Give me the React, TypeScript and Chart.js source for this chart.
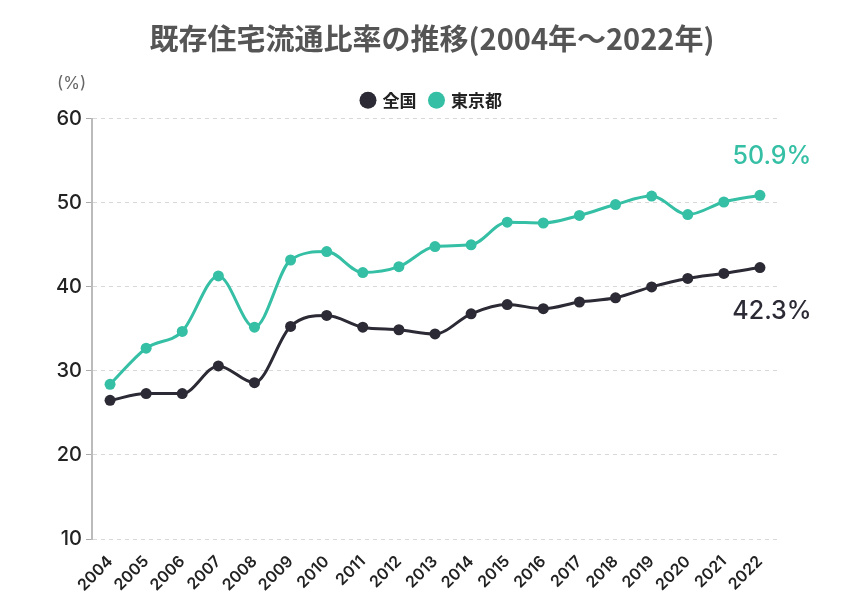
import React, { useEffect, useRef } from "react";
import { Chart, registerables } from "chart.js";

Chart.register(...registerables);

const years = ["2004","2005","2006","2007","2008","2009","2010","2011","2012","2013","2014","2015","2016","2017","2018","2019","2020","2021","2022"];
const national = [26.5,27.3,27.3,30.6,28.6,35.3,36.6,35.2,34.9,34.4,36.8,37.9,37.4,38.2,38.7,40.0,41.0,41.6,42.3];
const tokyo = [28.4,32.7,34.7,41.3,35.2,43.2,44.2,41.7,42.4,44.8,45.0,47.7,47.6,48.5,49.8,50.8,48.6,50.1,50.9];
const yTicks = [10, 20, 30, 40, 50, 60];
const seriesNames = ["全国", "東京都"];
const endLabels = ["42.3%", "50.9%"];

const DARK = "#2b2a35";
const TEAL = "#35bfa5";

const extrasPlugin = {
  id: "extras",
  afterDatasetsDraw(chart: any) {
    const ctx = chart.ctx;
    const area = chart.chartArea;
    ctx.save();
    ctx.font = "400 17px Inter, 'Noto Sans', sans-serif";
    ctx.fillStyle = "#666";
    ctx.textAlign = "left";
    ctx.textBaseline = "middle";
    ctx.fillText("(%)", area.left - 35, area.top - 35);
    chart.data.datasets.forEach((ds: any, i: number) => {
      const meta = chart.getDatasetMeta(i);
      const pt = meta.data[meta.data.length - 1];
      if (!pt) return;
      ctx.font = "500 25px Inter, 'Noto Sans', sans-serif";
      ctx.fillStyle = ds.borderColor;
      ctx.textAlign = "center";
      ctx.textBaseline = "middle";
      const dy = i === 1 ? -39 : 44;
      ctx.fillText(endLabels[i], pt.x + 12, pt.y + dy);
    });
    ctx.restore();
  },
};

export default function App() {
  const ref = useRef<HTMLCanvasElement>(null);
  useEffect(() => {
    if (!ref.current) return;
    const mk = (i: number, data: number[], color: string) => ({
      label: seriesNames[i],
      data,
      borderColor: color,
      backgroundColor: color,
      borderWidth: 3,
      pointRadius: 5.5,
      pointHoverRadius: 5.5,
      pointBorderWidth: 0,
      cubicInterpolationMode: "monotone" as const,
      yAxisID: "y",
    });
    const chart = new Chart(ref.current, {
      type: "line",
      data: {
        labels: years,
        datasets: [mk(0, national, DARK), mk(1, tokyo, TEAL)],
      },
      options: {
        animation: false,
        responsive: true,
        maintainAspectRatio: false,
        layout: { padding: { left: 32, right: 14, top: 0, bottom: 0 } },
        plugins: {
          title: {
            display: true,
            text: "既存住宅流通比率の推移(2004年～2022年)",
            color: "#555",
            font: { family: "'Noto Sans CJK JP', sans-serif", size: 29, weight: "bold" },
            padding: { top: 22, bottom: 21 },
          },
          legend: {
            display: true,
            labels: {
              usePointStyle: true,
              pointStyle: "circle",
              boxWidth: 12,
              boxHeight: 12,
              color: "#222",
              font: { family: "'Noto Sans CJK JP', sans-serif", size: 17, weight: "bold" },
              padding: 14,
            },
          },
          tooltip: { enabled: false },
        },
        scales: {
          x: {
            offset: true,
            grid: { display: false },
            border: { display: false },
            ticks: {
              minRotation: 45,
              maxRotation: 45,
              color: "#222",
              font: { family: "Inter, 'Noto Sans', sans-serif", size: 16, weight: "600" },
              padding: 5,
            },
            afterFit: (s: any) => { s.height = 76; },
          },
          y: {
            min: 10,
            max: 60,
            afterBuildTicks: (s: any) => { s.ticks = yTicks.map((v) => ({ value: v })); },
            afterFit: (s: any) => { s.width = 60; },
            grid: {
              color: "#d8d8d8",
              tickColor: "#aaa",
              tickLength: 6,
              tickBorderDash: [],
              lineWidth: 1,
            },
            border: { display: true, color: "#bbb", width: 2, dash: [4, 4] },
            ticks: {
              color: "#222",
              font: { family: "Inter, 'Noto Sans', sans-serif", size: 20, weight: "500" },
              padding: 4,
            },
          },
          yRight: {
            position: "right",
            display: true,
            grid: { display: false },
            border: { display: false },
            ticks: { display: false },
            afterFit: (s: any) => { s.width = 54; },
          },
        },
      },
      plugins: [extrasPlugin],
    });
    return () => chart.destroy();
  }, []);
  return (
    <div style={{ position: "absolute", left: 0, top: 0, width: 846, height: 615, background: "#fff" }}>
      <canvas ref={ref} />
    </div>
  );
}
